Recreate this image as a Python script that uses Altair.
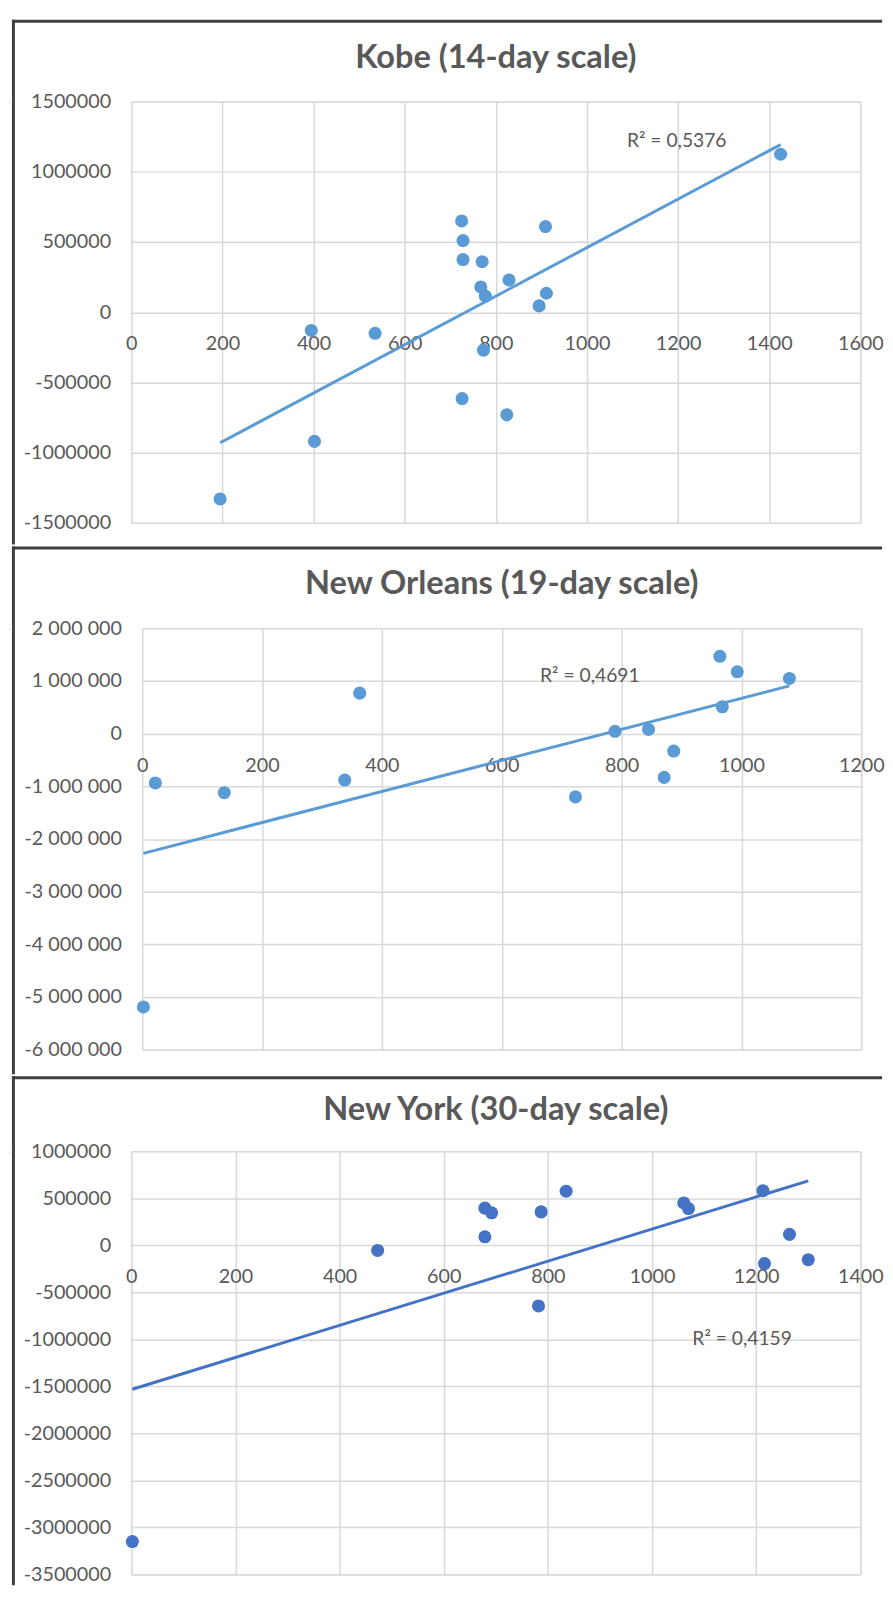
import altair as alt
import pandas as pd

# ---------------- data ----------------
kobe_x = [195, 395, 402, 535, 725, 728, 728, 770, 767, 777, 829, 773, 726, 824, 895, 911, 909, 1425]
kobe_y = [-1330000, -130000, -920000, -150000, 650000, 510000, 375000, 360000, 180000, 115000,
          230000, -270000, -615000, -730000, 45000, 135000, 610000, 1125000]

no_x = [22, 137, 338, 363, 723, 789, 845, 887, 871, 964, 993, 968, 1080, 2]
no_y = [-935000, -1120000, -880000, 770000, -1200000, 45000, 80000, -330000, -830000,
        1470000, 1175000, 510000, 1050000, -5190000]

ny_x = [2, 473, 679, 679, 692, 787, 835, 782, 1061, 1070, 1213, 1216, 1264, 1300]
ny_y = [-3150000, -55000, 90000, 395000, 345000, 355000, 575000, -645000, 450000, 390000,
        580000, -195000, 116000, -153000]

titles = ["Kobe (14-day scale)", "New Orleans (19-day scale)", "New York (30-day scale)"]
r2_labels = ["R² = 0,5376", "R² = 0,4691", "R² = 0,4159"]
r2_x = [1197, 747, 1173]
r2_y = [1219000, 1096000, -993000]

kobe_xticks = [0, 200, 400, 600, 800, 1000, 1200, 1400, 1600]
kobe_yticks = [-1500000, -1000000, -500000, 0, 500000, 1000000, 1500000]
no_xticks = [0, 200, 400, 600, 800, 1000, 1200]
no_yticks = [-6000000, -5000000, -4000000, -3000000, -2000000, -1000000, 0, 1000000, 2000000]
ny_xticks = [0, 200, 400, 600, 800, 1000, 1200, 1400]
ny_yticks = [-3500000, -3000000, -2500000, -2000000, -1500000, -1000000, -500000, 0, 500000, 1000000]

FONT = "Lato"
GRAY = "#595959"
GRID = "#D9D9D9"
BORDER = "#404040"


def panel(title, xs, ys, color, xticks, yticks, yfmt, r2_text, r2x, r2y, W, H, box, title_y):
    left, top, right, bottom = box
    df = pd.DataFrame({"x": xs, "y": ys})
    xdom = [xticks[0], xticks[-1]]
    ydom = [yticks[0], yticks[-1]]
    zero_off = -H * (0 - ydom[0]) / (ydom[1] - ydom[0])
    X = alt.X("x:Q", scale=alt.Scale(domain=xdom, nice=False, zero=False),
              axis=alt.Axis(values=xticks, format="d", title=None, grid=True, ticks=False,
                            domain=False, offset=zero_off, labelPadding=22, labelFlush=False,
                            labelOverlap=False, labelFont=FONT, labelFontSize=20,
                            labelColor=GRAY, gridColor=GRID, gridWidth=1.5))
    Y = alt.Y("y:Q", scale=alt.Scale(domain=ydom, nice=False, zero=False),
              axis=alt.Axis(values=yticks, format=yfmt, title=None, grid=True, ticks=False,
                            domain=False, labelPadding=21, labelFlush=False, labelOverlap=False,
                            labelFont=FONT, labelFontSize=20, labelColor=GRAY,
                            gridColor=GRID, gridWidth=1.5))
    base = alt.Chart(df)
    pts = base.mark_circle(size=175, opacity=1, color=color).encode(x=X, y=Y)
    trend = base.transform_regression("x", "y").mark_line(
        color=color, strokeWidth=3).encode(x=X, y=Y)
    r2df = pd.DataFrame({"x": [r2x], "y": [r2y], "label": [r2_text]})
    r2 = alt.Chart(r2df).mark_text(font=FONT, fontSize=19.5, color=GRAY).encode(
        x=X, y=Y, text="label:N")
    one = pd.DataFrame({"k": [0]})
    frame = alt.Chart(one).mark_rect(fillOpacity=0, strokeOpacity=0).encode(
        x=alt.value(left), x2=alt.value(right), y=alt.value(top), y2=alt.value(bottom))
    top_line = alt.Chart(one).mark_rect(color=BORDER).encode(
        x=alt.value(left), x2=alt.value(right), y=alt.value(top), y2=alt.value(top + 3))
    left_line = alt.Chart(one).mark_rect(color=BORDER).encode(
        x=alt.value(left), x2=alt.value(left + 3), y=alt.value(top), y2=alt.value(bottom))
    tdf = pd.DataFrame({"t": [title]})
    ttl = alt.Chart(tdf).mark_text(font=FONT, fontSize=33, fontWeight="bold", color=GRAY,
                                   align="center", baseline="alphabetic").encode(
        x=alt.value(W / 2), y=alt.value(title_y), text="t:N")
    return alt.layer(frame, top_line, left_line, ttl, pts, trend, r2).properties(
        width=W, height=H)


def spacer():
    one = pd.DataFrame({"k": [0]})
    return alt.Chart(one).mark_rect(fillOpacity=0).encode(
        x=alt.value(0), x2=alt.value(1), y=alt.value(0), y2=alt.value(1)
    ).properties(width=1, height=1)


p1 = panel(titles[0], kobe_x, kobe_y, "#5B9BD5", kobe_xticks, kobe_yticks, "d",
           r2_labels[0], r2_x[0], r2_y[0], 739, 427, (-121, -83, 761, 449), -33.6)
p2 = panel(titles[1], no_x, no_y, "#5B9BD5", no_xticks, no_yticks, ",d",
           r2_labels[1], r2_x[1], r2_y[1], 729, 427, (-132, -83, 750, 452), -34.4)
p3 = panel(titles[2], ny_x, ny_y, "#4472C4", ny_xticks, ny_yticks, "d",
           r2_labels[2], r2_x[2], r2_y[2], 739, 429, (-121, -76, 761, 440), -31.4)

rows = [alt.hconcat(spacer(), p, spacing=0) for p in (p1, p2, p3)]
chart = alt.vconcat(*rows, spacing=0).properties(
    padding=0, background="white"
).configure_view(stroke=None).configure(
    locale={"number": {"decimal": ",", "thousands": " ", "grouping": [3],
                       "currency": ["", ""], "minus": "-"}}
)

chart.save("out.html", embed_options={"renderer": "svg", "actions": False})
